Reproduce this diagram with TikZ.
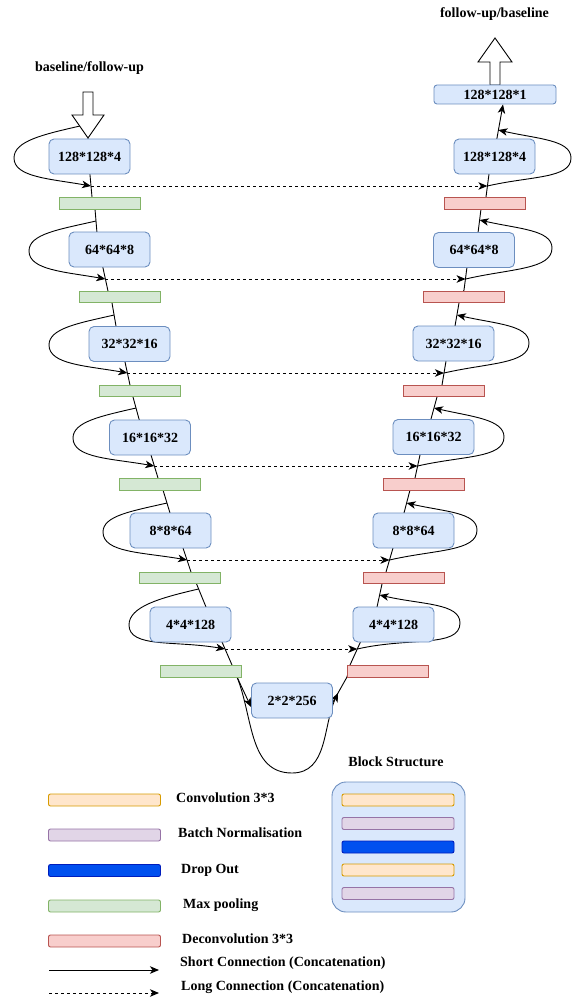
\documentclass[tikz,border=0pt]{standalone}
\usepackage{fontspec}
\setmainfont{Liberation Serif}
\usetikzlibrary{arrows.meta,calc}
\pgfdeclarelayer{bg}
\pgfsetlayers{bg,main}
\definecolor{blkF}{HTML}{DAE8FC}
\definecolor{blkD}{HTML}{6C8EBF}
\definecolor{grnF}{HTML}{D5E8D4}
\definecolor{grnD}{HTML}{82B366}
\definecolor{redF}{HTML}{F8CECC}
\definecolor{redD}{HTML}{B85450}
\definecolor{orgF}{HTML}{FFE6CC}
\definecolor{orgD}{HTML}{D79B00}
\definecolor{purF}{HTML}{E1D5E7}
\definecolor{purD}{HTML}{9673A6}
\definecolor{bluF}{HTML}{0050EF}
\definecolor{bluD}{HTML}{001DBC}
\newcommand\lblfont{\fontsize{14}{16}\selectfont\bfseries}
\tikzset{
  blk/.style={draw=blkD, fill=blkF, line width=0.9pt, rounded corners=5pt, minimum width=81pt, minimum height=35pt, inner sep=0pt, font=\lblfont},
  poolbar/.style={draw=grnD, fill=grnF, line width=0.9pt, minimum width=81pt, minimum height=11.5pt, inner sep=0pt},
  deconvbar/.style={draw=redD, fill=redF, line width=0.9pt, minimum width=81pt, minimum height=11.5pt, inner sep=0pt},
  legbar/.style={line width=0.9pt, rounded corners=2pt, minimum width=112pt, minimum height=12pt, inner sep=0pt},
  txt/.style={font=\lblfont, inner sep=0pt},
  wire/.style={line width=0.9pt},
  conn/.style={line width=0.9pt, -{Stealth[length=9pt,width=7.5pt,inset=2.5pt]}},
  longconn/.style={conn, dash pattern=on 3pt off 3pt},
  hollow/.style={draw=black, fill=white, line width=0.9pt, line join=miter},
  lloop/.style={conn},
}
\begin{document}
\begin{tikzpicture}[x=1pt,y=-1pt]
\useasboundingbox (0,0) rectangle (588,1003);

% ---------- hollow input / output arrows
\draw[hollow] (83,92) -- (93,92) -- (93,115) -- (104,115) -- (88,138) -- (72,115) -- (83,115) -- cycle;
\draw[hollow] (490,85) -- (490,62) -- (478,62) -- (495,38) -- (512,62) -- (500,62) -- (500,85) -- cycle;

% ---------- blocks
\node[blk] (L1) at (89.5,156.5) {128*128*4};
\node[blk] (L2) at (109.5,249.5) {64*64*8};
\node[blk] (L3) at (129.5,344) {32*32*16};
\node[blk] (L4) at (150,437.5) {16*16*32};
\node[blk] (L5) at (170.5,530.5) {8*8*64};
\node[blk] (L6) at (190.5,624.5) {4*4*128};
\node[blk] (B) at (292,700.5) {2*2*256};
\node[blk] (R6) at (393.5,624.5) {4*4*128};
\node[blk] (R5) at (413.5,530.5) {8*8*64};
\node[blk] (R4) at (433.5,437) {16*16*32};
\node[blk] (R3) at (453.5,343.5) {32*32*16};
\node[blk] (R2) at (474,250) {64*64*8};
\node[blk] (R1) at (494.5,156.5) {128*128*4};
\node[blk, minimum width=122pt, minimum height=19pt, rounded corners=3pt] (Out) at (495,94.5) {128*128*1};

% ---------- pooling / deconvolution bars
\node[poolbar] (g1) at (99.5,203.5) {};
\node[poolbar] (g2) at (119.7,297.1) {};
\node[poolbar] (g3) at (139.9,390.7) {};
\node[poolbar] (g4) at (160.1,484.3) {};
\node[poolbar] (g5) at (180.3,577.9) {};
\node[poolbar] (g6) at (200.5,671.5) {};
\node[deconvbar] (r1) at (484.5,203.5) {};
\node[deconvbar] (r2) at (464.3,297.1) {};
\node[deconvbar] (r3) at (444.1,390.7) {};
\node[deconvbar] (r4) at (423.9,484.3) {};
\node[deconvbar] (r5) at (403.7,577.9) {};
\node[deconvbar] (r6) at (387.5,671.5) {};

% ---------- titles
\node[txt, anchor=base] (tin) at (89.5,71.5) {baseline/follow-up};
\node[txt, anchor=base] (tout) at (494.5,17.5) {follow-up/baseline};

% ---------- connection points
\coordinate (dl1) at (91,186);    \coordinate (dr1) at (487.4,186);
\coordinate (dl2) at (105.4,279); \coordinate (dr2) at (465.6,279);
\coordinate (dl3) at (127.4,373); \coordinate (dr3) at (444,373);
\coordinate (dl4) at (154.3,466); \coordinate (dr4) at (417.6,466);
\coordinate (dl5) at (187,560);   \coordinate (dr5) at (389.5,560);
\coordinate (dl6) at (225,649);   \coordinate (dr6) at (357.3,649);
\coordinate (ls1) at (80,126);    \coordinate (le1) at (14,158);
\coordinate (ls2) at (96,221);    \coordinate (le2) at (29,251);
\coordinate (ls3) at (114.1,315); \coordinate (le3) at (49,345);
\coordinate (ls4) at (136,408);   \coordinate (le4) at (73,438);
\coordinate (ls5) at (167,503);   \coordinate (le5) at (103,532);
\coordinate (ls6) at (198.6,589); \coordinate (le6) at (129,625);
\coordinate (rt1) at (498.4,130); \coordinate (re1) at (571,158);
\coordinate (rt2) at (479.6,220); \coordinate (re2) at (552,248);
\coordinate (rt3) at (456.9,315); \coordinate (re3) at (529,343);
\coordinate (rt4) at (434,408);   \coordinate (re4) at (504,437);
\coordinate (rt5) at (406.6,503); \coordinate (re5) at (477,530);
\coordinate (rt6) at (379.6,595); \coordinate (re6) at (460,623);
\coordinate (us) at (237,677); \coordinate (ub) at (292,773); \coordinate (ue) at (338,693);

\begin{pgfonlayer}{bg}
% left spine
\draw[wire] (88,138) -- (90,175) -- (92,197) -- (95,209) -- (97,233) -- (103,268) -- (108,291)
  -- (112,303) -- (116,326) -- (125,362) -- (130,385) -- (133,397) -- (139,419) -- (151,455)
  -- (158,478) -- (163,490) -- (170,513) -- (183,548) -- (191,572) -- (197,585) -- (206,607)
  -- (222,642) -- (232,665) -- (us);
\draw[conn] (us) -- (B.west |- 0,707);
% right spine
\draw[wire] (B.east |- 0,702) -- (347,677) -- (350,665) -- (360,643) -- (377,607) -- (382,584)
  -- (386,572) -- (393,548) -- (404,513) -- (410,490) -- (415,478) -- (420,455) -- (431,419)
  -- (437,397) -- (442,385) -- (446,361) -- (455,326) -- (459,303) -- (464,290) -- (467,267)
  -- (478,233) -- (481,209) -- (486,197) -- (489,174) -- (497,138);
\draw[conn] (497,138) -- (Out.south -| 503,0);
% skip loops and long connections
\foreach \i in {1,...,6} {
  \draw[conn] (ls\i) to[out=193,in=90,out looseness=1.3,in looseness=0.6] (le\i)
                     to[out=-90,in=170,out looseness=0.6,in looseness=1.3] (dl\i);
  \draw[conn] (dr\i) to[out=13,in=-90,out looseness=1.3,in looseness=0.6] (re\i)
                     to[out=90,in=-13,out looseness=0.6,in looseness=1.3] (rt\i);
  \draw[longconn] (dl\i) -- (dr\i);
}
\draw[conn] (us) to[out=-68,in=180] (ub) to[out=0,in=245] (ue);
\end{pgfonlayer}

% ---------- legend
\node[legbar, draw=orgD, fill=orgF] (lc) at (104.5,800) {};
\node[legbar, draw=purD, fill=purF] (lb) at (104.5,835) {};
\node[legbar, draw=bluD, fill=bluF] (ld) at (104.5,870.5) {};
\node[legbar, draw=grnD, fill=grnF] (lm) at (104.5,906) {};
\node[legbar, draw=redD, fill=redF] (lx) at (104.5,941) {};
\coordinate (sa) at (49,970); \coordinate (sb) at (159,970);
\draw[conn] (sa) -- (sb);
\coordinate (la) at (49,993); \coordinate (lz) at (159,993);
\draw[longconn] (la) -- (lz);
\node[txt, anchor=base west] (tc) at (176,802.5) {Convolution 3*3};
\node[txt, anchor=base west] (tb) at (178,837.5) {Batch Normalisation};
\node[txt, anchor=base west] (td) at (181,873.3) {Drop Out};
\node[txt, anchor=base west] (tm) at (183,908.3) {Max pooling};
\node[txt, anchor=base west] (tx) at (182,943.3) {Deconvolution 3*3};
\node[txt, anchor=base west] (ts) at (180,966.3) {Short Connection (Concatenation)};
\node[txt, anchor=base west] (tl) at (181,990.3) {Long Connection (Concatenation)};

% ---------- block structure
\node[txt, anchor=base] (bst) at (396,766.5) {Block Structure};
\node[draw=blkD, fill=blkF, line width=0.9pt, rounded corners=14pt, minimum width=133pt, minimum height=130pt, inner sep=0pt] (bsb) at (398.5,847) {};
\node[legbar, draw=orgD, fill=orgF] (bs1) at (398,800) {};
\node[legbar, draw=purD, fill=purF] (bs2) at (398,823.5) {};
\node[legbar, draw=bluD, fill=bluF] (bs3) at (398,847) {};
\node[legbar, draw=orgD, fill=orgF] (bs4) at (398,870) {};
\node[legbar, draw=purD, fill=purF] (bs5) at (398,893.5) {};
\end{tikzpicture}
\end{document}
